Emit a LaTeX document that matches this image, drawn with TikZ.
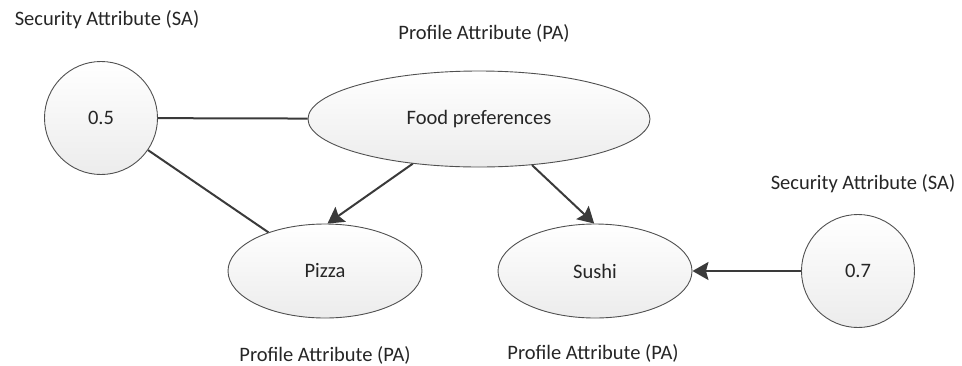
\documentclass[tikz,border=0pt]{standalone}
\usepackage{fontspec}
\setmainfont{Carlito}
\usetikzlibrary{shapes.geometric,arrows.meta}
\definecolor{ink}{HTML}{3A3A3A}
\definecolor{txt}{HTML}{262626}
\definecolor{outline}{HTML}{505050}
\definecolor{fillbottom}{HTML}{ECECEC}
\begin{document}
\begin{tikzpicture}[x=1pt,y=-1pt,
  font=\fontsize{20.5}{24}\selectfont, text=txt,
  bubble/.style={draw=outline, line width=0.9pt, top color=white, bottom color=fillbottom,
    inner sep=0pt},
  attr/.style={bubble, ellipse},
  score/.style={bubble, circle, minimum size=113pt},
  link/.style={draw=ink, line width=2pt},
  arrowlink/.style={link, -{Stealth[length=16pt,width=18pt,inset=2.5pt]}},
  caption/.style={inner sep=0pt, anchor=center}]
\useasboundingbox (0,0) rectangle (962,365);

% attribute ellipses and security score circles
\node[attr, minimum width=342pt, minimum height=96pt] (food) at (479,119) {Food preferences};
\node[attr, minimum width=194pt, minimum height=94pt] (pizza) at (325,271) {Pizza};
\node[attr, minimum width=194pt, minimum height=94pt] (sushi) at (595,271) {Sushi};
\node[score] (sa1) at (101,118) {0.5};
\node[score] (sa2) at (858,271) {0.7};

% captions
\node[caption] (capsa1) at (107,20) {Security Attribute (SA)};
\node[caption] (cappa1) at (484,33) {Profile Attribute (PA)};
\node[caption] (capsa2) at (863,184) {Security Attribute (SA)};
\node[caption] (cappa2) at (325,355) {Profile Attribute (PA)};
\node[caption] (cappa3) at (593,353) {Profile Attribute (PA)};

% connectors
\draw[link] (sa1) -- (food);
\draw[link] (sa1) -- (pizza);
\draw[arrowlink] (food.214) -- (pizza.87);
\draw[arrowlink] (food.319) -- (sushi.91);
\draw[arrowlink] (sa2) -- (sushi);
\end{tikzpicture}
\end{document}
